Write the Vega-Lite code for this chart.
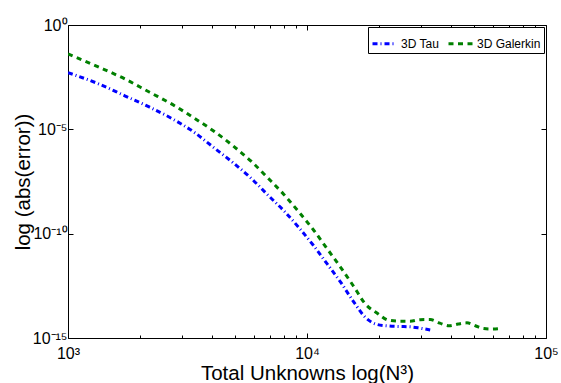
{
  "$schema": "https://vega.github.io/schema/vega-lite/v6.json",
  "width": 478,
  "height": 313,
  "autosize": {"type": "none"},
  "padding": {"left": 68, "top": 25, "right": 15, "bottom": 45},
  "background": "white",
  "config": {
    "view": {"stroke": "#000000", "strokeWidth": 1},
    "font": "Liberation Sans",
    "axis": {"labelFont": "Liberation Sans", "titleFont": "Liberation Sans", "labelColor": "#000", "titleColor": "#000", "tickColor": "#000", "grid": false, "domain": false, "titleFontWeight": "normal"},
    "legend": {"labelFont": "Liberation Sans", "labelColor": "#000"}
  },
  "data": {
    "values": [
      {"N3": 1000, "err": 5.22e-3, "method": "3D Tau"},
      {"N3": 1331, "err": 1.57e-3, "method": "3D Tau"},
      {"N3": 1728, "err": 4.06e-4, "method": "3D Tau"},
      {"N3": 2197, "err": 1.15e-4, "method": "3D Tau"},
      {"N3": 2744, "err": 3.11e-5, "method": "3D Tau"},
      {"N3": 3375, "err": 7.18e-6, "method": "3D Tau"},
      {"N3": 4096, "err": 1.27e-6, "method": "3D Tau"},
      {"N3": 4913, "err": 2.47e-7, "method": "3D Tau"},
      {"N3": 5832, "err": 4.57e-8, "method": "3D Tau"},
      {"N3": 6859, "err": 7.11e-9, "method": "3D Tau"},
      {"N3": 8000, "err": 1.25e-9, "method": "3D Tau"},
      {"N3": 9261, "err": 1.91e-10, "method": "3D Tau"},
      {"N3": 10648, "err": 2.70e-11, "method": "3D Tau"},
      {"N3": 12167, "err": 3.44e-12, "method": "3D Tau"},
      {"N3": 13824, "err": 4.73e-13, "method": "3D Tau"},
      {"N3": 15625, "err": 5.70e-14, "method": "3D Tau"},
      {"N3": 17576, "err": 9.57e-15, "method": "3D Tau"},
      {"N3": 19683, "err": 4.43e-15, "method": "3D Tau"},
      {"N3": 21952, "err": 3.75e-15, "method": "3D Tau"},
      {"N3": 24389, "err": 3.55e-15, "method": "3D Tau"},
      {"N3": 27000, "err": 3.44e-15, "method": "3D Tau"},
      {"N3": 29791, "err": 2.94e-15, "method": "3D Tau"},
      {"N3": 32768, "err": 2.42e-15, "method": "3D Tau"},
      {"N3": 1000, "err": 4.09e-2, "method": "3D Galerkin"},
      {"N3": 1331, "err": 1.01e-2, "method": "3D Galerkin"},
      {"N3": 1728, "err": 2.61e-3, "method": "3D Galerkin"},
      {"N3": 2197, "err": 5.96e-4, "method": "3D Galerkin"},
      {"N3": 2744, "err": 1.52e-4, "method": "3D Galerkin"},
      {"N3": 3375, "err": 3.44e-5, "method": "3D Galerkin"},
      {"N3": 4096, "err": 7.85e-6, "method": "3D Galerkin"},
      {"N3": 4913, "err": 1.59e-6, "method": "3D Galerkin"},
      {"N3": 5832, "err": 2.98e-7, "method": "3D Galerkin"},
      {"N3": 6859, "err": 4.68e-8, "method": "3D Galerkin"},
      {"N3": 8000, "err": 7.59e-9, "method": "3D Galerkin"},
      {"N3": 9261, "err": 1.07e-9, "method": "3D Galerkin"},
      {"N3": 10648, "err": 1.50e-10, "method": "3D Galerkin"},
      {"N3": 12167, "err": 1.83e-11, "method": "3D Galerkin"},
      {"N3": 13824, "err": 2.44e-12, "method": "3D Galerkin"},
      {"N3": 15625, "err": 3.15e-13, "method": "3D Galerkin"},
      {"N3": 17576, "err": 4.19e-14, "method": "3D Galerkin"},
      {"N3": 19683, "err": 1.52e-14, "method": "3D Galerkin"},
      {"N3": 21952, "err": 7.11e-15, "method": "3D Galerkin"},
      {"N3": 24389, "err": 6.37e-15, "method": "3D Galerkin"},
      {"N3": 27000, "err": 6.37e-15, "method": "3D Galerkin"},
      {"N3": 29791, "err": 7.59e-15, "method": "3D Galerkin"},
      {"N3": 32768, "err": 7.67e-15, "method": "3D Galerkin"},
      {"N3": 35937, "err": 5.16e-15, "method": "3D Galerkin"},
      {"N3": 39304, "err": 3.84e-15, "method": "3D Galerkin"},
      {"N3": 42875, "err": 4.68e-15, "method": "3D Galerkin"},
      {"N3": 46656, "err": 5.33e-15, "method": "3D Galerkin"},
      {"N3": 50653, "err": 3.88e-15, "method": "3D Galerkin"},
      {"N3": 54872, "err": 2.82e-15, "method": "3D Galerkin"},
      {"N3": 59319, "err": 2.70e-15, "method": "3D Galerkin"},
      {"N3": 64000, "err": 2.85e-15, "method": "3D Galerkin"}
    ]
  },
  "resolve": {"axis": {"x": "independent", "y": "independent"}},
  "layer": [
    {
      "mark": {"type": "line", "strokeWidth": 3, "interpolate": "monotone", "strokeCap": "butt", "clip": true},
      "encoding": {
        "x": {"field": "N3", "type": "quantitative",
          "scale": {"type": "log", "domain": [1000, 100000], "nice": false},
          "axis": {"orient": "bottom", "values": [1000, 10000, 100000], "tickSize": -5, "labelPadding": 12,
            "labelFontSize": 16, "labelFlush": false, "labelOverlap": false, "labelBound": false,
            "labelExpr": "datum.value < 3000 ? '10³' : datum.value < 30000 ? '10⁴' : '10⁵'",
            "title": "Total Unknowns log(N³)", "titleFontSize": 20.5, "titleBaseline": "alphabetic", "titleY": 41}},
        "y": {"field": "err", "type": "quantitative",
          "scale": {"type": "log", "domain": [1e-15, 1], "nice": false},
          "axis": {"orient": "left", "values": [1, 1e-5, 1e-10, 1e-15], "tickSize": -5, "labelPadding": 6,
            "labelFontSize": 16, "labelFlush": false, "labelOverlap": false, "labelBound": false,
            "labelExpr": "datum.value > 0.5 ? '10⁰' : datum.value > 1e-7 ? '10⁻⁵' : datum.value > 1e-12 ? '10⁻¹⁰' : '10⁻¹⁵'",
            "title": "log (abs(error))", "titleFontSize": 20.5, "titleAngle": 270, "titleBaseline": "alphabetic", "titleX": -39}},
        "color": {"field": "method", "type": "nominal",
          "scale": {"domain": ["3D Tau", "3D Galerkin"], "range": ["#0000ff", "#008000"]},
          "legend": {"orient": "top-right", "direction": "horizontal", "title": null, "offset": 2,
            "strokeColor": "#000", "fillColor": "#fff", "padding": 3, "symbolType": "stroke",
            "symbolStrokeWidth": 3, "symbolSize": 576, "labelFontSize": 12, "labelOffset": 3, "columnPadding": 2}},
        "strokeDash": {"field": "method", "type": "nominal",
          "scale": {"domain": ["3D Tau", "3D Galerkin"], "range": [[5, 3, 1, 3], [5, 4.5]]},
          "legend": null}
      }
    },
    {
      "mark": {"type": "point", "opacity": 0},
      "encoding": {
        "x": {"field": "N3", "type": "quantitative",
          "axis": {"orient": "bottom", "values": [2000, 3000, 4000, 5000, 6000, 7000, 8000, 9000, 20000, 30000, 40000, 50000, 60000, 70000, 80000, 90000], "tickSize": -3, "labels": false, "title": null}},
        "y": {"field": "err", "type": "quantitative",
          "axis": {"orient": "right", "values": [1, 1e-5, 1e-10, 1e-15], "tickSize": -5, "labels": false, "title": null}}
      }
    },
    {
      "mark": {"type": "point", "opacity": 0},
      "encoding": {
        "x": {"field": "N3", "type": "quantitative",
          "axis": {"orient": "top", "values": [1000, 10000, 100000], "tickSize": -5, "labels": false, "title": null}},
        "y": {"field": "err", "type": "quantitative", "axis": null}
      }
    },
    {
      "mark": {"type": "point", "opacity": 0},
      "encoding": {
        "x": {"field": "N3", "type": "quantitative",
          "axis": {"orient": "top", "values": [2000, 3000, 4000, 5000, 6000, 7000, 8000, 9000, 20000, 30000, 40000, 50000, 60000, 70000, 80000, 90000], "tickSize": -3, "labels": false, "title": null}},
        "y": {"field": "err", "type": "quantitative", "axis": null}
      }
    }
  ]
}
